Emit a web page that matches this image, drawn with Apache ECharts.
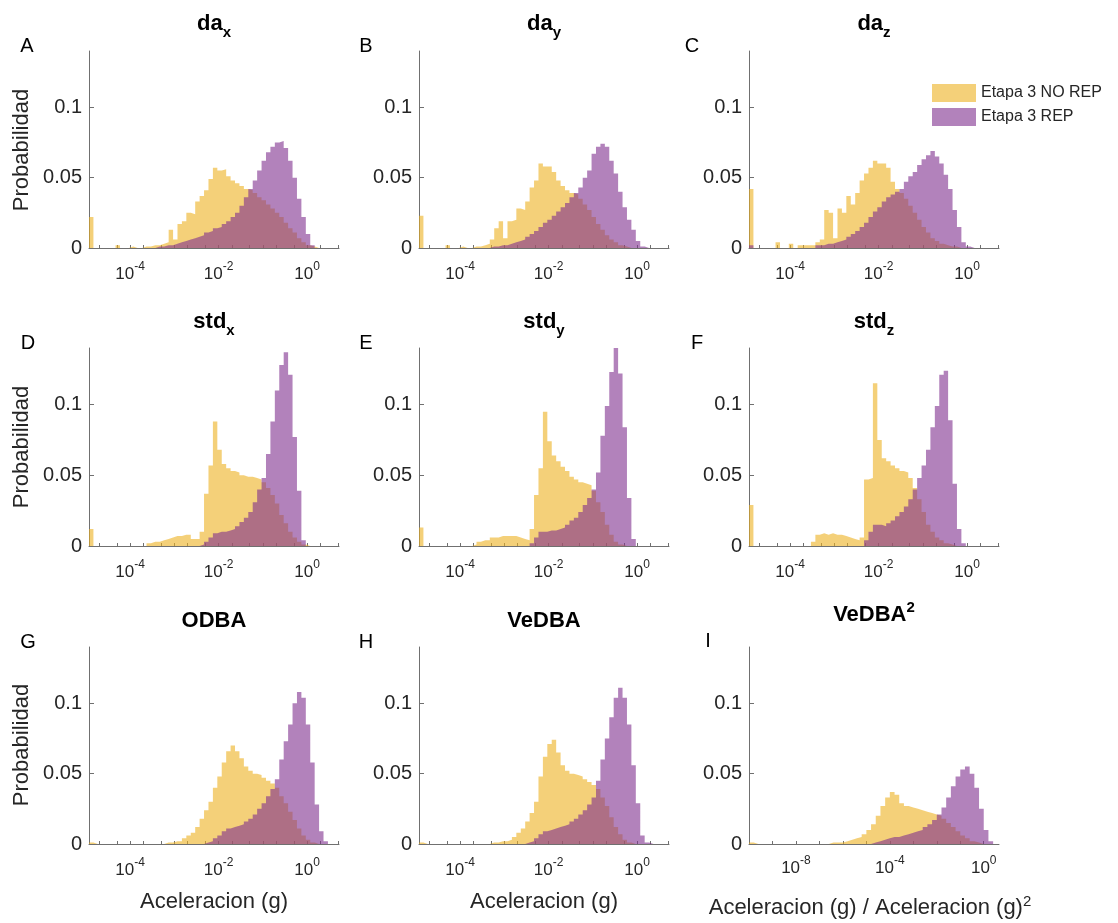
<!DOCTYPE html>
<html>
<head>
<meta charset="utf-8">
<script src="https://cdn.jsdelivr.net/npm/echarts@6/dist/echarts.min.js"></script>
<style>
  html, body { margin: 0; padding: 0; background: #fff; }
  #chart { width: 1118px; height: 923px; }
</style>
</head>
<body>
<div id="chart"></div>
<script>
// log10 bins: panels A-H use 0.1 decade from 10^-4.93, panel I uses 0.2 decade from 10^-10
const binStartAcc = -4.93;
const binWidthAcc = 0.1;
const binStartSq = -10;
const binWidthSq = 0.2;

const xLabelExpAcc = [-4, -2, 0];
const xLabelExpSq = [-8, -4, 0];
const yTickValues = [0, 0.05, 0.1];

const legendNames = ['Etapa 3 NO REP', 'Etapa 3 REP'];
const panelLetters = ['A', 'B', 'C', 'D', 'E', 'F', 'G', 'H', 'I'];
const panelTitles = [
  '{m|da}{sub|x}', '{m|da}{sub|y}', '{m|da}{sub|z}',
  '{m|std}{sub|x}', '{m|std}{sub|y}', '{m|std}{sub|z}',
  '{m|ODBA}', '{m|VeDBA}', '{ms|VeDBA}{sup|2}'
];

// probabilidad por bin
const daxNoRep = [
  0.022, 0, 0, 0, 0, 0, 0.002, 0, 0, 0.001,
  0, 0, 0.001, 0.001, 0.002, 0.002, 0.003, 0.004, 0.013, 0.006,
  0.017, 0.019, 0.025, 0.024, 0.033, 0.037, 0.041, 0.049, 0.057, 0.055,
  0.056, 0.051, 0.048, 0.046, 0.044, 0.042, 0.041, 0.039, 0.036, 0.034,
  0.031, 0.028, 0.025, 0.022, 0.018, 0.014, 0.011, 0.007, 0.004, 0.002,
  0.001, 0, 0, 0, 0, 0, 0
];
const daxRep = [
  0, 0, 0, 0, 0, 0, 0, 0, 0, 0,
  0, 0, 0, 0, 0, 0.001, 0.001, 0.002, 0.002, 0.003,
  0.004, 0.005, 0.006, 0.007, 0.008, 0.009, 0.011, 0.012, 0.014, 0.015,
  0.017, 0.019, 0.022, 0.025, 0.030, 0.036, 0.042, 0.048, 0.055, 0.062,
  0.068, 0.072, 0.075, 0.076, 0.071, 0.062, 0.050, 0.035, 0.022, 0.010,
  0.002, 0, 0, 0, 0, 0, 0
];
const dayNoRep = [
  0.023, 0, 0, 0, 0, 0, 0.002, 0, 0, 0.001,
  0, 0, 0.001, 0.001, 0.002, 0.003, 0.006, 0.014, 0.019, 0.007,
  0.019, 0.020, 0.028, 0.027, 0.033, 0.043, 0.048, 0.060, 0.058, 0.058,
  0.054, 0.048, 0.044, 0.041, 0.039, 0.038, 0.035, 0.031, 0.027, 0.022,
  0.017, 0.013, 0.009, 0.006, 0.004, 0.002, 0.001, 0, 0, 0,
  0, 0, 0, 0, 0, 0, 0
];
const dayRep = [
  0, 0, 0, 0, 0, 0, 0, 0, 0, 0,
  0, 0, 0, 0, 0, 0, 0.001, 0.001, 0.002, 0.002,
  0.003, 0.004, 0.005, 0.006, 0.008, 0.010, 0.012, 0.015, 0.018, 0.020,
  0.023, 0.026, 0.029, 0.032, 0.036, 0.039, 0.043, 0.050, 0.055, 0.067,
  0.072, 0.074, 0.072, 0.062, 0.053, 0.040, 0.029, 0.020, 0.013, 0.005,
  0.001, 0, 0, 0, 0, 0, 0
];
const dazNoRep = [
  0.042, 0, 0, 0, 0, 0, 0.004, 0, 0, 0.003,
  0, 0.002, 0.002, 0.002, 0.002, 0.004, 0.006, 0.027, 0.025, 0.007,
  0.028, 0.025, 0.037, 0.031, 0.039, 0.048, 0.053, 0.057, 0.062, 0.060,
  0.060, 0.057, 0.047, 0.042, 0.039, 0.035, 0.030, 0.025, 0.020, 0.015,
  0.011, 0.007, 0.005, 0.003, 0.002, 0.001, 0.001, 0, 0, 0,
  0, 0, 0, 0, 0, 0, 0
];
const dazRep = [
  0.002, 0, 0, 0, 0, 0, 0, 0, 0, 0,
  0, 0, 0, 0, 0, 0.002, 0.002, 0.003, 0.003, 0.004,
  0.005, 0.006, 0.008, 0.010, 0.012, 0.015, 0.018, 0.022, 0.026, 0.029,
  0.033, 0.036, 0.038, 0.040, 0.042, 0.047, 0.051, 0.054, 0.059, 0.063,
  0.066, 0.069, 0.065, 0.060, 0.052, 0.042, 0.027, 0.015, 0.004, 0.001,
  0, 0, 0, 0, 0, 0, 0
];
const stdxNoRep = [
  0.012, 0, 0, 0, 0, 0, 0, 0, 0, 0,
  0, 0, 0, 0.002, 0.003, 0.003, 0.004, 0.005, 0.006, 0.007,
  0.007, 0.008, 0.008, 0.005, 0.005, 0.010, 0.037, 0.057, 0.088, 0.068,
  0.058, 0.055, 0.053, 0.052, 0.050, 0.049, 0.049, 0.048, 0.047, 0.045,
  0.041, 0.036, 0.030, 0.022, 0.016, 0.010, 0.006, 0.003, 0.001, 0,
  0, 0, 0, 0, 0, 0, 0
];
const stdxRep = [
  0, 0, 0, 0, 0, 0, 0, 0, 0, 0,
  0, 0, 0, 0, 0, 0, 0, 0, 0, 0,
  0, 0, 0, 0, 0, 0.001, 0.003, 0.006, 0.009, 0.010,
  0.010, 0.011, 0.012, 0.014, 0.017, 0.020, 0.024, 0.031, 0.040, 0.048,
  0.065, 0.088, 0.110, 0.128, 0.137, 0.121, 0.077, 0.039, 0.004, 0,
  0, 0, 0, 0, 0, 0, 0
];
const stdyNoRep = [
  0.013, 0, 0, 0, 0, 0, 0, 0, 0, 0,
  0, 0, 0.001, 0.003, 0.004, 0.004, 0.006, 0.006, 0.007, 0.007,
  0.007, 0.007, 0.006, 0.005, 0.004, 0.012, 0.036, 0.055, 0.095, 0.074,
  0.064, 0.060, 0.056, 0.053, 0.049, 0.047, 0.045, 0.044, 0.043, 0.039,
  0.031, 0.024, 0.015, 0.008, 0.003, 0.001, 0, 0, 0, 0,
  0, 0, 0, 0, 0, 0, 0
];
const stdyRep = [
  0, 0, 0, 0, 0, 0, 0, 0, 0, 0,
  0, 0, 0, 0, 0, 0, 0, 0, 0, 0,
  0, 0, 0, 0, 0, 0.002, 0.006, 0.010, 0.010, 0.011,
  0.011, 0.012, 0.013, 0.015, 0.018, 0.020, 0.024, 0.029, 0.034, 0.040,
  0.052, 0.078, 0.099, 0.123, 0.140, 0.122, 0.084, 0.034, 0.005, 0,
  0, 0, 0, 0, 0, 0, 0
];
const stdzNoRep = [
  0.029, 0, 0, 0, 0, 0, 0, 0, 0, 0,
  0, 0, 0, 0, 0.003, 0.008, 0.009, 0.008, 0.009, 0.008,
  0.008, 0.007, 0.006, 0.005, 0.004, 0.006, 0.047, 0.048, 0.115, 0.075,
  0.062, 0.060, 0.057, 0.055, 0.053, 0.052, 0.048, 0.041, 0.033, 0.024,
  0.015, 0.010, 0.006, 0.004, 0.002, 0.001, 0, 0, 0, 0,
  0, 0, 0, 0, 0, 0, 0
];
const stdzRep = [
  0, 0, 0, 0, 0, 0, 0, 0, 0, 0,
  0, 0, 0, 0, 0, 0, 0, 0, 0, 0,
  0, 0, 0, 0, 0, 0, 0.004, 0.010, 0.015, 0.015,
  0.014, 0.016, 0.018, 0.021, 0.024, 0.028, 0.033, 0.040, 0.048, 0.057,
  0.068, 0.084, 0.099, 0.121, 0.124, 0.089, 0.044, 0.012, 0.002, 0,
  0, 0, 0, 0, 0, 0, 0
];
const odbaNoRep = [
  0.001, 0, 0, 0, 0, 0, 0, 0, 0, 0,
  0, 0, 0, 0, 0, 0, 0, 0.001, 0.001, 0.002,
  0.002, 0.004, 0.006, 0.008, 0.012, 0.018, 0.024, 0.030, 0.040, 0.048,
  0.058, 0.066, 0.070, 0.066, 0.061, 0.055, 0.052, 0.050, 0.049, 0.047,
  0.045, 0.043, 0.040, 0.034, 0.029, 0.023, 0.017, 0.011, 0.006, 0.003,
  0.001, 0, 0, 0, 0, 0, 0
];
const odbaRep = [
  0, 0, 0, 0, 0, 0, 0, 0, 0, 0,
  0, 0, 0, 0, 0, 0, 0, 0, 0, 0,
  0, 0, 0, 0, 0, 0, 0.001, 0.002, 0.004, 0.006,
  0.009, 0.011, 0.012, 0.013, 0.014, 0.016, 0.018, 0.021, 0.025, 0.029,
  0.034, 0.039, 0.046, 0.060, 0.073, 0.085, 0.100, 0.108, 0.104, 0.085,
  0.058, 0.028, 0.009, 0.002, 0, 0, 0
];
const vedbaNoRep = [
  0.001, 0, 0, 0, 0, 0, 0, 0, 0, 0,
  0, 0, 0, 0, 0, 0, 0.001, 0.001, 0.002, 0.002,
  0.003, 0.005, 0.008, 0.011, 0.016, 0.022, 0.030, 0.048, 0.062, 0.071,
  0.074, 0.065, 0.056, 0.052, 0.050, 0.049, 0.048, 0.046, 0.044, 0.042,
  0.039, 0.033, 0.027, 0.019, 0.012, 0.007, 0.003, 0.001, 0, 0,
  0, 0, 0, 0, 0, 0, 0
];
const vedbaRep = [
  0, 0, 0, 0, 0, 0, 0, 0, 0, 0,
  0, 0, 0, 0, 0, 0, 0, 0, 0, 0,
  0, 0, 0, 0, 0.001, 0.002, 0.004, 0.007, 0.009, 0.010,
  0.011, 0.012, 0.013, 0.014, 0.016, 0.018, 0.021, 0.024, 0.028, 0.033,
  0.045, 0.060, 0.075, 0.090, 0.104, 0.111, 0.104, 0.085, 0.056, 0.029,
  0.006, 0.001, 0, 0, 0, 0, 0
];
const vedba2NoRep = [
  0.001, 0, 0, 0, 0, 0, 0, 0, 0, 0,
  0, 0, 0, 0, 0, 0, 0, 0.001, 0.001, 0.001,
  0.002, 0.003, 0.004, 0.005, 0.007, 0.010, 0.014, 0.020, 0.027, 0.033,
  0.037, 0.035, 0.029, 0.027, 0.026, 0.025, 0.024, 0.023, 0.022, 0.021,
  0.020, 0.018, 0.015, 0.012, 0.009, 0.006, 0.004, 0.002, 0.001, 0,
  0, 0, 0
];
const vedba2Rep = [
  0, 0, 0, 0, 0, 0, 0, 0, 0, 0,
  0, 0, 0, 0, 0, 0, 0, 0, 0, 0,
  0, 0, 0, 0, 0, 0, 0.001, 0.002, 0.003, 0.004,
  0.005, 0.005, 0.006, 0.007, 0.008, 0.009, 0.010, 0.012, 0.014, 0.017,
  0.021, 0.026, 0.033, 0.041, 0.048, 0.053, 0.055, 0.050, 0.040, 0.025,
  0.010, 0.002, 0
];

const noRepSets = [daxNoRep, dayNoRep, dazNoRep, stdxNoRep, stdyNoRep, stdzNoRep, odbaNoRep, vedbaNoRep, vedba2NoRep];
const repSets = [daxRep, dayRep, dazRep, stdxRep, stdyRep, stdzRep, odbaRep, vedbaRep, vedba2Rep];

const chart = echarts.init(document.getElementById('chart'));

const fontFamily = '"Liberation Sans", Arial, Helvetica, sans-serif';
const textColor = '#262626';
const axisColor = '#707070';
const yellow = '#EDB120';
const purple = '#7E2F8E';
const colLeft = [89, 419, 749];
const rowTop = [51, 348, 647];
const plotW = 250;
const plotH = 197;
const titleY = [24, 322, 621];
const letterPos = [[27, 46], [366, 46], [692, 46], [28, 343], [366, 343], [697, 343], [28, 642], [366, 642], [708, 641]];

// escalera: cada bin mantiene su altura hasta el borde siguiente
function stepData(vals, start, width) {
  const d = vals.map((v, i) => [start + i * width, v]);
  d.push([start + vals.length * width, 0]);
  return d;
}

function logTicks(lo, hi, mults) {
  const out = [];
  for (let d = Math.floor(lo); d <= Math.ceil(hi); d++) {
    mults.forEach(k => {
      const v = d + Math.log10(k);
      if (v >= lo && v <= hi) out.push(v);
    });
  }
  return out;
}

const grids = [], xAxes = [], yAxes = [], series = [], graphics = [];

for (let k = 0; k < 9; k++) {
  const col = k % 3, row = Math.floor(k / 3);
  const sq = k === 8;
  const xmin = sq ? -10 : binStartAcc;
  const xmax = sq ? 0.65 : 0.72;
  grids.push({ left: colLeft[col], top: rowTop[row], width: plotW, height: row === 1 ? plotH + 1 : plotH });

  xAxes.push({
    gridIndex: k, type: 'value', min: xmin, max: xmax,
    axisLine: { show: true, onZero: false, lineStyle: { color: axisColor, width: 1 } },
    axisTick: { show: true, inside: true, length: 3, customValues: logTicks(xmin, xmax, sq ? [1] : [1, 2, 5]), lineStyle: { color: axisColor } },
    splitLine: { show: false },
    axisLabel: {
      customValues: sq ? xLabelExpSq : xLabelExpAcc,
      margin: sq ? 11 : 13,
      formatter: v => '{b|10}{s|' + v + '}',
      rich: {
        b: { fontSize: 17, lineHeight: 26, color: textColor, fontFamily },
        s: { fontSize: 12, lineHeight: 12, color: textColor, fontFamily, verticalAlign: 'top' }
      }
    }
  });

  yAxes.push({
    gridIndex: k, type: 'value', min: 0, max: 0.14,
    axisLine: { show: true, onZero: false, lineStyle: { color: axisColor, width: 1 } },
    axisTick: { show: true, inside: true, length: 5, customValues: yTickValues, lineStyle: { color: axisColor } },
    splitLine: { show: false },
    axisLabel: {
      customValues: yTickValues, fontSize: 20, color: textColor, fontFamily, margin: 7,
      formatter: v => String(v)
    }
  });

  const start = sq ? binStartSq : binStartAcc;
  const width = sq ? binWidthSq : binWidthAcc;
  [[noRepSets[k], yellow, legendNames[0]], [repSets[k], purple, legendNames[1]]].forEach(([vals, color, name]) => {
    series.push({
      type: 'line', name, xAxisIndex: k, yAxisIndex: k,
      data: stepData(vals, start, width),
      step: 'end', symbol: 'none', silent: true,
      lineStyle: { width: 0, color },
      itemStyle: { color },
      areaStyle: { color, opacity: 0.6 }
    });
  });

  graphics.push({
    type: 'text', x: colLeft[col] + plotW / 2, y: sq ? 615 : titleY[row],
    style: {
      text: panelTitles[k], align: 'center', verticalAlign: 'middle',
      textAlign: 'center', textVerticalAlign: 'middle',
      rich: {
        m: { fontSize: 22, fontWeight: 'bold', lineHeight: 33, fill: '#000', fontFamily },
        ms: { fontSize: 22, fontWeight: 'bold', lineHeight: 29, fill: '#000', fontFamily },
        sub: { fontSize: 15, fontWeight: 'bold', lineHeight: 15, fill: '#000', fontFamily, verticalAlign: 'bottom' },
        sup: { fontSize: 15, fontWeight: 'bold', lineHeight: 15, fill: '#000', fontFamily, verticalAlign: 'top' }
      }
    }
  });
  graphics.push({
    type: 'text', x: letterPos[k][0], y: letterPos[k][1],
    style: {
      text: panelLetters[k], fontSize: 20, fontFamily, fill: '#000',
      align: 'center', verticalAlign: 'middle', textAlign: 'center', textVerticalAlign: 'middle'
    }
  });
}

[150, 447, 745].forEach(y => {
  graphics.push({
    type: 'text', x: 22, y, rotation: Math.PI / 2,
    style: {
      text: 'Probabilidad', fontSize: 22, fontFamily, fill: textColor,
      align: 'center', verticalAlign: 'middle', textAlign: 'center', textVerticalAlign: 'middle'
    }
  });
});

[[214, 902], [544, 902]].forEach(([x, y]) => {
  graphics.push({
    type: 'text', x, y,
    style: {
      text: 'Aceleracion (g)', fontSize: 22, fontFamily, fill: textColor,
      align: 'center', verticalAlign: 'middle', textAlign: 'center', textVerticalAlign: 'middle'
    }
  });
});
graphics.push({
  type: 'text', x: 870, y: 908,
  style: {
    text: '{m|Aceleracion (g) / Aceleracion (g)}{sup|2}',
    align: 'center', verticalAlign: 'middle', textAlign: 'center', textVerticalAlign: 'middle',
    rich: {
      m: { fontSize: 22, lineHeight: 28, fill: textColor, fontFamily },
      sup: { fontSize: 15, lineHeight: 15, fill: textColor, fontFamily, verticalAlign: 'top' }
    }
  }
});

chart.setOption({
  animation: false,
  textStyle: { fontFamily },
  grid: grids,
  xAxis: xAxes,
  yAxis: yAxes,
  series,
  graphic: { elements: graphics },
  legend: {
    orient: 'vertical', left: 927, top: 79, itemWidth: 44, itemHeight: 18, itemGap: 6,
    icon: 'rect', selectedMode: false,
    itemStyle: { opacity: 0.6 },
    textStyle: { fontSize: 16, color: textColor, fontFamily },
    data: [
      { name: legendNames[0], itemStyle: { color: yellow, opacity: 0.6 } },
      { name: legendNames[1], itemStyle: { color: purple, opacity: 0.6 } }
    ]
  }
});
</script>
</body>
</html>
